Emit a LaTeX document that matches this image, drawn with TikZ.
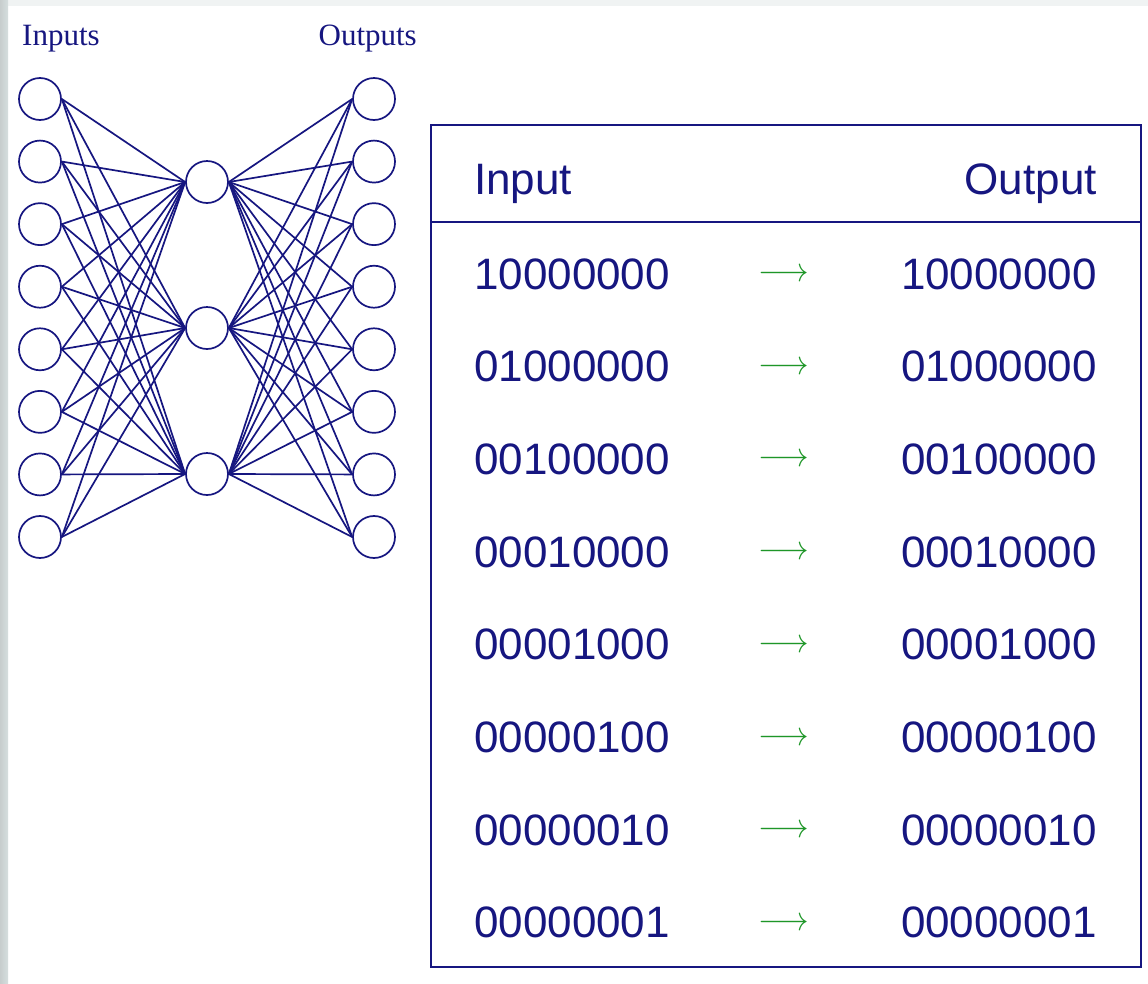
\documentclass[tikz,border=0pt]{standalone}
\usepackage{fontspec}
\usepackage{graphicx}
\newfontfamily\sansf{Liberation Sans}
\newfontfamily\serf{Liberation Serif}
\definecolor{navy}{RGB}{22,22,128}
\definecolor{arrowgreen}{RGB}{30,150,40}
\definecolor{bandgrey}{RGB}{214,222,222}
\definecolor{topgrey}{RGB}{240,243,243}
\tikzset{
  neuron/.style={circle, draw=navy, line width=1.7pt, minimum size=42pt, inner sep=0pt},
  link/.style={navy, line width=1.7pt},
  lbl/.style={text=navy, inner sep=0pt, font=\serf\fontsize{31}{36}\selectfont},
  cell/.style={text=navy, inner sep=0pt, font=\sansf\fontsize{44}{50}\selectfont},
  arr/.style={text=arrowgreen, inner sep=0pt},
}
\begin{document}
\begin{tikzpicture}[x=1pt,y=-1pt]
\useasboundingbox (0,0) rectangle (1148,983);
\fill[white] (0,0) rectangle (1148,983);
\fill[topgrey] (0,0) rectangle (1148,6);
\shade[left color=bandgrey!90!black!90, right color=bandgrey] (0,0) rectangle (8,983);
% labels
\node[lbl, anchor=base west] (lin) at (22,45) {Inputs};
\node[lbl, anchor=base east] (lout) at (417,45) {Outputs};
% neurons
\foreach \k in {1,...,8} {
  \node[neuron] (i\k) at (40,{99+62.57*(\k-1)}) {};
  \node[neuron] (o\k) at (374,{99+62.57*(\k-1)}) {};
}
\node[neuron] (h1) at (207,182) {};
\node[neuron] (h2) at (207,328) {};
\node[neuron] (h3) at (207,474) {};
\foreach \k in {1,...,8} {
  \foreach \h in {1,2,3} {
    \draw[link] (i\k.east) -- (h\h.west);
    \draw[link] (h\h.east) -- (o\k.west);
  }
}
% table
\draw[navy, line width=1.8pt] (431,125) rectangle (1141,967);
\draw[navy, line width=1.5pt] (431,222) -- (1141,222);
\node[cell, anchor=base west] (hin) at (474,194) {Input};
\node[cell, anchor=base east] (hout) at (1097,194) {Output};
\foreach \r/\s in {0/10000000,1/01000000,2/00100000,3/00010000,4/00001000,5/00000100,6/00000010,7/00000001} {
  \node[cell, anchor=base west] (a\r) at (474,{289+92.7*\r}) {\s};
  \node[arr, anchor=base] (m\r) at (784,{281.5+92.7*\r}) {\scalebox{3.15}[3.4]{$\longrightarrow$}};
  \node[cell, anchor=base east] (b\r) at (1097,{289+92.7*\r}) {\s};
}
\end{tikzpicture}
\end{document}
